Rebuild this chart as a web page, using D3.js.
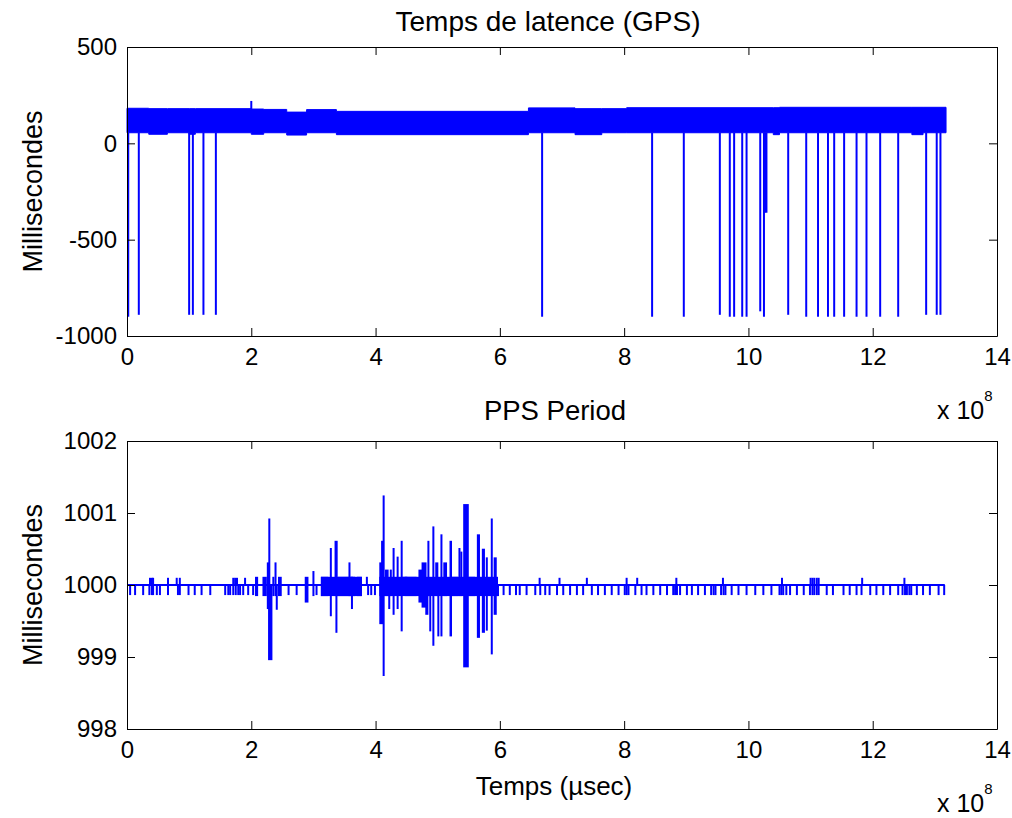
<!DOCTYPE html>
<html><head><meta charset="utf-8">
<script src="https://cdn.jsdelivr.net/npm/d3@7"></script>
<style>
body{margin:0;background:#fff}
svg text{font-family:"Liberation Sans",Arial,sans-serif;fill:#000}
</style>
</head><body>
<svg id="c" width="1012" height="818"></svg>
<script>
// ---------------- DATA ----------------
// x in units of 1e8 µsec, y in milliseconds
const xTickValues = [0, 2, 4, 6, 8, 10, 12, 14];
const latTickValues = [-1000, -500, 0, 500];
const ppsTickValues = [998, 999, 1000, 1001, 1002];

// Top chart: dense latency band segments [xStart, xEnd, low, high]
const latBandX0 = [0.00, 0.35, 0.65, 1.00, 1.10, 2.00, 2.20, 2.57, 2.89, 3.37, 6.46, 7.21, 7.64, 8.04, 10.40, 10.50, 12.63, 12.81];
const latBandX1 = [0.35, 0.65, 1.00, 1.10, 2.00, 2.20, 2.57, 2.89, 3.37, 6.46, 7.21, 7.64, 8.04, 10.40, 10.50, 12.63, 12.81, 13.18];
const latBandLow = [55, 47, 55, 47, 55, 47, 55, 43, 55, 45, 55, 45, 55, 55, 45, 55, 45, 55];
const latBandHigh = [182, 180, 180, 180, 180, 178, 176, 162, 175, 166, 184, 180, 180, 185, 185, 187, 187, 187];
// upward excursion
const latPeakX = [2.00];
const latPeakV = [220];
// downward spikes
const latSpikeX = [0.02, 0.19, 1.00, 1.06, 1.23, 1.43, 6.68, 8.45, 8.96, 9.54, 9.70, 9.77, 9.90, 9.97, 10.19, 10.25, 10.27, 10.29, 10.64, 10.93, 11.12, 11.28, 11.38, 11.54, 11.74, 11.90, 12.12, 12.41, 12.86, 13.03, 13.09];
const latSpikeV = [-900, -890, -890, -890, -890, -890, -900, -900, -900, -890, -900, -900, -900, -900, -872, -900, -360, -360, -890, -900, -900, -900, -900, -900, -900, -900, -900, -900, -890, -890, -890];

// Bottom chart: PPS period
const ppsBase = 1000;
const ppsEndX = 13.16;
const ppsDownX = [0.05, 0.13, 0.26, 0.36, 0.40, 0.42, 0.48, 0.53, 0.66, 0.82, 0.85, 0.99, 1.09, 1.20, 1.34, 1.58, 1.63, 1.66, 1.71, 1.75, 1.79, 1.82, 1.87, 1.95, 2.03, 2.60, 2.73, 3.05, 3.88, 3.93, 3.99,
  6.06, 6.16, 6.26, 6.32, 6.43, 6.57, 6.65, 6.73, 6.80, 6.92, 7.02, 7.13, 7.24, 7.34, 7.48, 7.58, 7.69, 7.80, 7.91, 8.01, 8.04, 8.07, 8.18, 8.28, 8.36, 8.47, 8.58, 8.69, 8.79, 8.82, 8.85, 8.90, 9.01, 9.09, 9.19,
  9.30, 9.40, 9.44, 9.47, 9.56, 9.60, 9.63, 9.73, 9.84, 9.97, 10.11, 10.24, 10.37, 10.50, 10.53, 10.56, 10.61, 10.67, 10.78, 10.89, 10.99, 11.03, 11.06, 11.10, 11.13, 11.26, 11.36, 11.53, 11.63, 11.74, 11.82, 11.96, 12.06, 12.17, 12.28, 12.41, 12.48, 12.52, 12.55, 12.59, 12.62, 12.71, 12.81, 12.92, 13.06, 13.15];
const ppsDownV = 999.86;
const ppsUpX = [0.37, 0.40, 0.42, 0.66, 0.80, 0.85, 1.71, 1.74, 1.77, 1.90, 6.64, 6.96, 7.40, 8.04, 8.21, 8.84, 9.59, 10.54, 11.00, 11.03, 11.06, 11.10, 11.13, 11.83, 12.51];
const ppsUpV = 1000.1;
// burst blocks [xStart, xEnd, low, high]
const ppsBurstX0 = [2.06, 2.18, 2.25, 2.29, 2.27, 2.34, 2.39, 2.41, 2.43, 2.86, 3.00, 3.12, 3.28, 3.34, 3.37, 3.39, 3.58, 3.62, 3.70, 3.86, 4.06, 4.09, 4.13, 4.15, 4.21, 4.23, 4.29, 4.34, 4.42, 4.43, 4.47, 4.69, 4.74, 4.80, 4.85, 4.88, 4.93, 4.96, 5.01, 5.06, 5.09, 5.19, 5.23, 5.35, 5.38, 5.41, 5.50, 5.63, 5.71, 5.79, 5.87, 5.90, 5.97, 3.12, 4.06];
const ppsBurstX1 = [2.11, 2.25, 2.29, 2.29, 2.34, 2.37, 2.39, 2.41, 2.49, 2.92, 3.00, 3.24, 3.28, 3.39, 3.37, 3.67, 3.58, 3.62, 3.78, 3.86, 4.12, 4.12, 4.13, 4.21, 4.23, 4.26, 4.29, 4.37, 4.42, 4.51, 4.66, 4.77, 4.82, 4.85, 4.85, 4.88, 4.93, 5.01, 5.01, 5.06, 5.15, 5.23, 5.33, 5.35, 5.38, 5.50, 5.60, 5.68, 5.76, 5.79, 5.87, 5.95, 5.97, 3.78, 5.97];
const ppsBurstLow = [999.86, 999.86, 999.68, 999.68, 998.97, 999.86, 999.86, 999.67, 999.86, 999.77, 999.86, 999.86, 999.58, 999.86, 999.35, 999.86, 999.86, 999.68, 999.86, 1000, 999.47, 999.86, 998.75, 999.86, 999.68, 999.86, 999.6, 999.68, 999.37, 1000, 999.86, 999.77, 999.7, 999.6, 999.86, 999.37, 999.17, 999.86, 999.3, 999.3, 999.86, 999.3, 999.86, 999.86, 999.86, 998.87, 999.86, 999.28, 999.35, 999.38, 999.05, 999.6, 999.86, 999.86, 999.86];
const ppsBurstHigh = [1000.1, 1000.1, 1000.3, 1000.91, 1000, 1000.1, 1000.3, 1000, 1000.1, 1000.1, 1000.18, 1000.1, 1000.5, 1000.6, 1000, 1000.1, 1000.3, 1000.1, 1000.1, 1000.1, 1000.3, 1000.6, 1001.23, 1000.2, 1000, 1000.2, 1000.5, 1000.38, 1000.6, 1000.1, 1000.1, 1000.2, 1000.3, 1000, 1000.6, 1000, 1000.8, 1000.3, 1000, 1000.69, 1000.3, 1000.6, 1000.1, 1000.5, 1000.45, 1001.11, 1000.1, 1000.69, 1000.49, 1000.37, 1000.91, 1000.37, 1000, 1000.1, 1000.1];

const titles = ["Temps de latence (GPS)", "PPS Period"];
const yLabel = "Millisecondes";
const xLabel = "Temps (µsec)";

// ---------------- DRAW ----------------
const BLUE = "#0000ff";
const svg = d3.select("#c");
svg.append("rect").attr("width", 1012).attr("height", 818).attr("fill", "#fff");

const x = d3.scaleLinear().domain([0, 14]).range([127, 997]);
const yTop = d3.scaleLinear().domain([-1000, 500]).range([336, 47]);
const yBot = d3.scaleLinear().domain([998, 1002]).range([729, 441]);
const fmt = d => String(d);

function frame(y, yTicks) {
  const g = svg.append("g");
  const [yb, yt] = y.range();
  const styleAxis = sel => {
    sel.selectAll("path.domain").attr("stroke", "#000").attr("stroke-width", 1);
    sel.selectAll(".tick line").attr("stroke", "#000").attr("stroke-width", 1);
    sel.selectAll("text").attr("font-family", "Liberation Sans, Arial, sans-serif").attr("font-size", 24).attr("fill", "#000");
    sel.attr("font-family", null).attr("font-size", null);
  };
  g.append("g").attr("transform", `translate(0,${yb})`)
    .call(d3.axisBottom(x).tickValues(xTickValues).tickSize(-8).tickSizeOuter(0).tickPadding(12).tickFormat(fmt))
    .call(styleAxis);
  g.append("g").attr("transform", `translate(0,${yt})`)
    .call(d3.axisTop(x).tickValues(xTickValues).tickSize(-8).tickSizeOuter(0).tickFormat(""))
    .call(styleAxis);
  g.append("g").attr("transform", `translate(${x.range()[0]},0)`)
    .call(d3.axisLeft(y).tickValues(yTicks).tickSize(-8).tickSizeOuter(0).tickPadding(10).tickFormat(fmt))
    .call(styleAxis);
  g.append("g").attr("transform", `translate(${x.range()[1]},0)`)
    .call(d3.axisRight(y).tickValues(yTicks).tickSize(-8).tickSizeOuter(0).tickFormat(""))
    .call(styleAxis);
  // exponent
  const ex = g.append("text").attr("x", 937).attr("y", yb + 83).attr("font-size", 25);
  ex.append("tspan").text("x 10");
  ex.append("tspan").attr("font-size", 15).attr("dy", -18).text("8");
  // y label
  g.append("text").attr("transform", `translate(42,${(yb + yt) / 2}) rotate(-90)`)
    .attr("text-anchor", "middle").attr("font-size", 27).text(yLabel);
}

// --- top chart data
const bandData = latBandX0.map((d, i) => ({x: d, lo: latBandLow[i], hi: latBandHigh[i]}));
const last = bandData[bandData.length - 1];
bandData.push({x: latBandX1[latBandX1.length - 1], lo: last.lo, hi: last.hi});
const gTop = svg.append("g");
gTop.append("path").datum(bandData)
  .attr("d", d3.area().curve(d3.curveStepAfter).x(d => x(d.x)).y0(d => yTop(d.lo)).y1(d => yTop(d.hi)))
  .attr("fill", BLUE).attr("stroke", BLUE).attr("stroke-width", 1);
gTop.selectAll("line.peak").data(latPeakX.map((d, i) => ({x: d, v: latPeakV[i]}))).join("line")
  .attr("x1", d => x(d.x)).attr("x2", d => x(d.x)).attr("y1", yTop(150)).attr("y2", d => yTop(d.v))
  .attr("stroke", BLUE).attr("stroke-width", 2);
gTop.selectAll("line.spike").data(latSpikeX.map((d, i) => ({x: d, v: latSpikeV[i]}))).join("line")
  .attr("x1", d => x(d.x)).attr("x2", d => x(d.x)).attr("y1", yTop(55)).attr("y2", d => yTop(d.v))
  .attr("stroke", BLUE).attr("stroke-width", 2);

// --- bottom chart data
const gBot = svg.append("g");
gBot.append("path").datum([[0, ppsBase], [ppsEndX, ppsBase]])
  .attr("d", d3.line().x(d => x(d[0])).y(d => yBot(d[1])))
  .attr("stroke", BLUE).attr("stroke-width", 2).attr("fill", "none");
gBot.selectAll("line.dn").data(ppsDownX).join("line")
  .attr("x1", d => x(d)).attr("x2", d => x(d)).attr("y1", yBot(ppsBase)).attr("y2", yBot(ppsDownV))
  .attr("stroke", BLUE).attr("stroke-width", 2);
gBot.selectAll("line.up").data(ppsUpX).join("line")
  .attr("x1", d => x(d)).attr("x2", d => x(d)).attr("y1", yBot(ppsBase)).attr("y2", yBot(ppsUpV))
  .attr("stroke", BLUE).attr("stroke-width", 2);
const burst = ppsBurstX0.map((d, i) => ({x0: d, x1: ppsBurstX1[i], lo: ppsBurstLow[i], hi: ppsBurstHigh[i]}));
gBot.selectAll("rect.burst").data(burst).join("rect")
  .attr("x", d => Math.min(x(d.x0), (x(d.x0) + x(d.x1)) / 2 - 1))
  .attr("width", d => Math.max(2, x(d.x1) - x(d.x0)))
  .attr("y", d => yBot(d.hi) - 1).attr("height", d => yBot(d.lo) - yBot(d.hi) + 2)
  .attr("fill", BLUE);

frame(yTop, latTickValues);
frame(yBot, ppsTickValues);

// titles & x label
svg.append("text").attr("x", 548).attr("y", 31).attr("text-anchor", "middle").attr("font-size", 28).text(titles[0]);
svg.append("text").attr("x", 555).attr("y", 420).attr("text-anchor", "middle").attr("font-size", 27.5).text(titles[1]);
svg.append("text").attr("x", 554).attr("y", 795).attr("text-anchor", "middle").attr("font-size", 26).text(xLabel);
</script>
</body></html>
